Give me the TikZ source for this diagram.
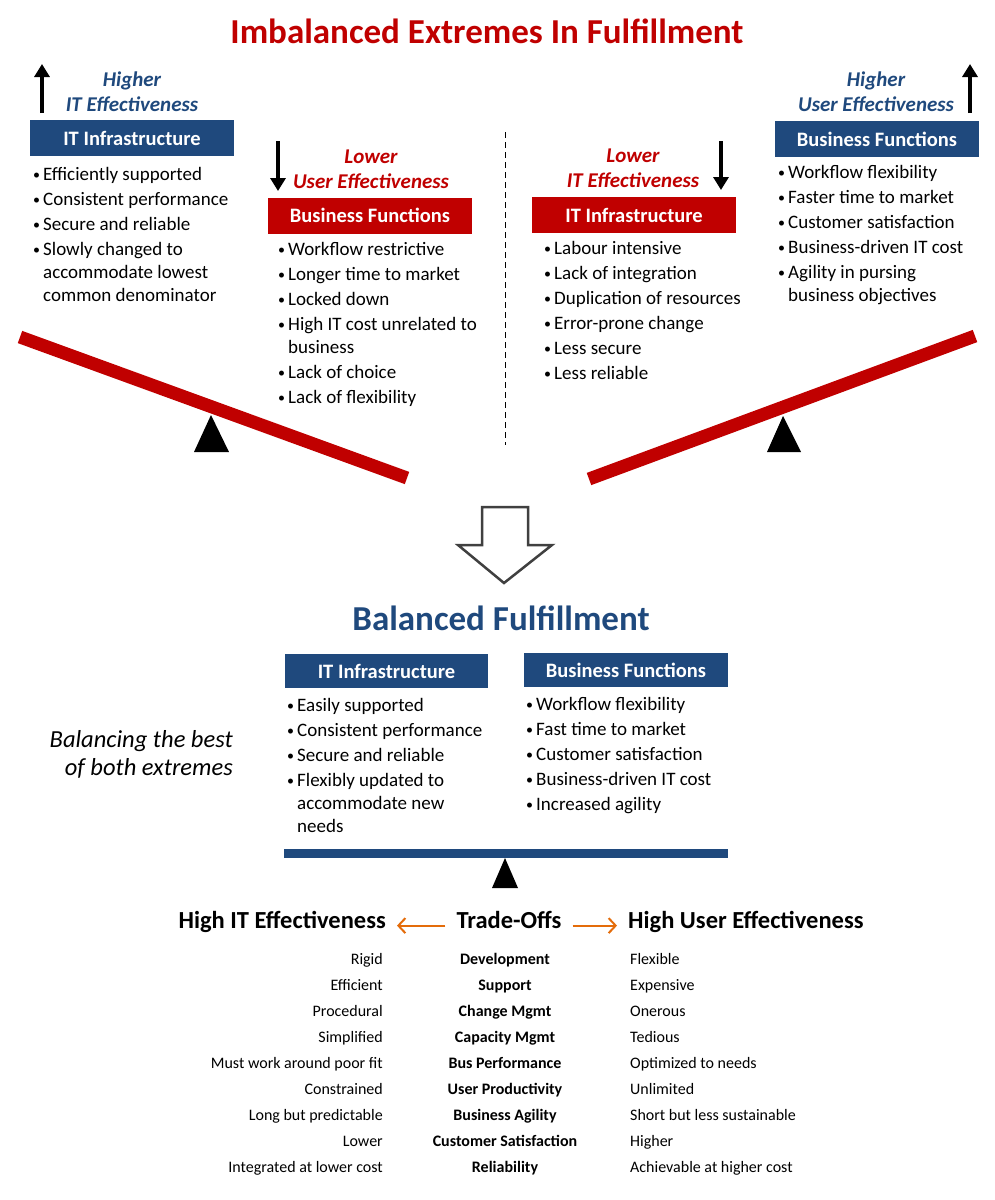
\documentclass[tikz,border=0pt]{standalone}
\usepackage{fontspec}
\setmainfont{Carlito}
\usetikzlibrary{arrows.meta}
\definecolor{itblue}{HTML}{1F497D}
\definecolor{itred}{HTML}{C00000}
\definecolor{tradeorange}{HTML}{E46C0A}
\definecolor{outlinegray}{HTML}{404040}
\newcommand{\itm}{\makebox[11pt][l]{\hspace{1pt}\raisebox{1pt}{\fontsize{14}{14}\selectfont\textbullet}}}
\tikzset{
  bluebox/.style={fill=itblue, text=white, inner sep=0pt, minimum width=204pt, minimum height=36pt, font=\bfseries\fontsize{20.5}{22}\selectfont},
  redbox/.style={bluebox, fill=itred},
  effect/.style={anchor=base, inner sep=0pt, font=\bfseries\itshape\fontsize{21}{25}\selectfont},
  blist/.style={anchor=base west, inner sep=0pt, font=\fontsize{19}{23}\selectfont},
  updown/.style={-{Triangle[length=13pt,width=15pt]}, line width=4pt},
  seesaw/.style={line width=13pt, draw=itred},
  hdr/.style={anchor=base, inner sep=0pt, font=\bfseries\fontsize{24.5}{28}\selectfont},
  cell/.style={inner sep=0pt, font=\fontsize{16}{18}\selectfont},
  cellbold/.style={cell, font=\bfseries\fontsize{16}{18}\selectfont},
  tradearrow/.style={-{Straight Barb[length=7pt,width=15pt]}, draw=tradeorange, line width=2pt, shorten <=11pt, shorten >=11pt},
}
\begin{document}
\begin{tikzpicture}[x=1pt,y=-1pt]
\useasboundingbox[fill=white] (0,0) rectangle (994,1200);
\node[anchor=base, inner sep=0pt, text=itred, font=\bfseries\fontsize{35}{40}\selectfont] (ttl) at (487,43) {Imbalanced Extremes In Fulfillment};

% left extreme: IT high, users low
\coordinate (upL0) at (42,113);
\coordinate (upL1) at (42,64);
\draw[updown] (upL0) -- (upL1);
\node[effect, text=itblue] (hiIT) at (132,86) {\begin{tabular}[t]{@{}c@{}}Higher\\IT Effectiveness\end{tabular}};
\node[bluebox] (itL) at (132,138) {IT Infrastructure};
\node[blist] (itLlist) at (32,180) {\begin{tabular}[t]{@{}l@{}l@{}}
\itm & Efficiently supported\\[2pt]
\itm & Consistent performance\\[2pt]
\itm & Secure and reliable\\[2pt]
\itm & Slowly changed to\\
& accommodate lowest\\
& common denominator
\end{tabular}};
\coordinate (dnL0) at (278,141);
\coordinate (dnL1) at (278,191);
\draw[updown] (dnL0) -- (dnL1);
\node[effect, text=itred] (loUser) at (371,163) {\begin{tabular}[t]{@{}c@{}}Lower\\User Effectiveness\end{tabular}};
\node[redbox] (bfL) at (370,215.5) {Business Functions};
\node[blist] (bfLlist) at (277,255) {\begin{tabular}[t]{@{}l@{}l@{}}
\itm & Workflow restrictive\\[2pt]
\itm & Longer time to market\\[2pt]
\itm & Locked down\\[2pt]
\itm & High IT cost unrelated to\\
& business\\[2pt]
\itm & Lack of choice\\[2pt]
\itm & Lack of flexibility
\end{tabular}};
\draw[seesaw] (20,337) -- (407,478);
\fill (211,415) -- (229,452) -- (194,452) -- cycle;

\draw[dash pattern=on 6pt off 4pt, line width=1pt] (505,132) -- (505,445);

% right extreme: IT low, users high
\coordinate (dnR0) at (721,141);
\coordinate (dnR1) at (721,190);
\draw[updown] (dnR0) -- (dnR1);
\node[effect, text=itred] (loIT) at (633,162) {\begin{tabular}[t]{@{}c@{}}Lower\\IT Effectiveness\end{tabular}};
\node[redbox] (itR) at (634,215) {IT Infrastructure};
\node[blist] (itRlist) at (543,254) {\begin{tabular}[t]{@{}l@{}l@{}}
\itm & Labour intensive\\[2pt]
\itm & Lack of integration\\[2pt]
\itm & Duplication of resources\\[2pt]
\itm & Error-prone change\\[2pt]
\itm & Less secure\\[2pt]
\itm & Less reliable
\end{tabular}};
\coordinate (upR0) at (970,113);
\coordinate (upR1) at (970,64);
\draw[updown] (upR0) -- (upR1);
\node[effect, text=itblue] (hiUser) at (876,86) {\begin{tabular}[t]{@{}c@{}}Higher\\User Effectiveness\end{tabular}};
\node[bluebox] (bfR) at (877,139) {Business Functions};
\node[blist] (bfRlist) at (777,178) {\begin{tabular}[t]{@{}l@{}l@{}}
\itm & Workflow flexibility\\[2pt]
\itm & Faster time to market\\[2pt]
\itm & Customer satisfaction\\[2pt]
\itm & Business-driven IT cost\\[2pt]
\itm & Agility in pursing\\
& business objectives
\end{tabular}};
\draw[seesaw] (589,479) -- (975,336);
\fill (783,416) -- (801,452) -- (767,452) -- cycle;

% hollow arrow
\draw[outlinegray, line width=2.5pt, fill=white, line join=miter] (482,507) -- (528,507) -- (528,545) -- (552,545) -- (504,583) -- (458,545) -- (482,545) -- cycle;

% balanced
\node[anchor=base, inner sep=0pt, text=itblue, font=\bfseries\fontsize{35}{40}\selectfont] (bal) at (501,630) {Balanced Fulfillment};
\node[bluebox, minimum width=203pt, minimum height=34pt] (itB) at (386.5,671) {IT Infrastructure};
\node[bluebox, minimum width=204pt, minimum height=34pt] (bfB) at (626,670) {Business Functions};
\node[blist] (itBlist) at (286,711) {\begin{tabular}[t]{@{}l@{}l@{}}
\itm & Easily supported\\[2pt]
\itm & Consistent performance\\[2pt]
\itm & Secure and reliable\\[2pt]
\itm & Flexibly updated to\\
& accommodate new\\
& needs
\end{tabular}};
\node[blist] (bfBlist) at (525,710) {\begin{tabular}[t]{@{}l@{}l@{}}
\itm & Workflow flexibility\\[2pt]
\itm & Fast time to market\\[2pt]
\itm & Customer satisfaction\\[2pt]
\itm & Business-driven IT cost\\[2pt]
\itm & Increased agility
\end{tabular}};
\node[anchor=base east, inner sep=0pt, font=\itshape\fontsize{24.5}{28}\selectfont] (best) at (233,747) {\begin{tabular}[t]{@{}r@{}}Balancing the best\\of both extremes\end{tabular}};
\fill[itblue] (284,849) rectangle (728,858);
\fill (505,858) -- (518,888) -- (492,888) -- cycle;

% trade-offs
\node[hdr] (trade) at (509,928) {Trade-Offs};
\node[hdr, anchor=base east] (hiITe) at (386,928) {High IT Effectiveness};
\node[hdr, anchor=base west] (hiUsere) at (628,928) {High User Effectiveness};
\draw[tradearrow] (trade.mid west) -- (hiITe.mid east);
\draw[tradearrow] (trade.mid east) -- (hiUsere.mid west);
\foreach \lo/\crit/\hi [count=\i] in {Rigid/Development/Flexible, Efficient/Support/Expensive, Procedural/Change Mgmt/Onerous, Simplified/Capacity Mgmt/Tedious, Must work around poor fit/Bus Performance/Optimized to needs, Constrained/User Productivity/Unlimited, Long but predictable/Business Agility/Short but less sustainable, Lower/Customer Satisfaction/Higher, Integrated at lower cost/Reliability/Achievable at higher cost}
{
  \node[cell, anchor=base east] (lo\i) at (383,938+26*\i) {\lo};
  \node[cellbold, anchor=base] (crit\i) at (505,938+26*\i) {\crit};
  \node[cell, anchor=base west] (hi\i) at (630,938+26*\i) {\hi};
}
\end{tikzpicture}
\end{document}
